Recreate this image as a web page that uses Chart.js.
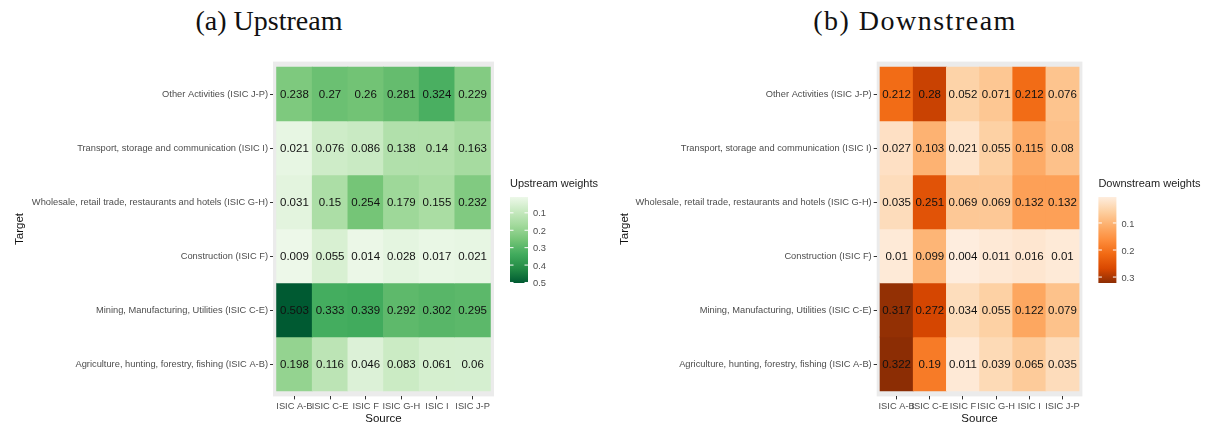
<!DOCTYPE html>
<html>
<head>
<meta charset="utf-8">
<script src="https://cdn.jsdelivr.net/npm/chart.js@4.4.1/dist/chart.umd.min.js"></script>
<style>
  body { margin: 0; background: #fff; width: 1211px; height: 430px; position: relative; overflow: hidden; }
  canvas { position: absolute; top: 0; }
  .title { position: absolute; top: 5px; font-family: "Liberation Serif", serif; font-size: 28px; color: #111; transform: translateX(-50%); white-space: nowrap; }
</style>
</head>
<body>
<div class="title" style="left:269px">(a) Upstream</div>
<div class="title" style="left:915px; letter-spacing:1.5px">(b) Downstream</div>
<canvas id="up" width="600" height="430" style="left:0"></canvas>
<canvas id="down" width="611" height="430" style="left:600px"></canvas>
<script>
// Source sectors (x axis) and target sectors (y axis, top to bottom)
const sources = ["ISIC A-B", "ISIC C-E", "ISIC F", "ISIC G-H", "ISIC I", "ISIC J-P"];
const targets = [
  "Other Activities (ISIC J-P)",
  "Transport, storage and communication (ISIC I)",
  "Wholesale, retail trade, restaurants and hotels (ISIC G-H)",
  "Construction (ISIC F)",
  "Mining, Manufacturing, Utilities (ISIC C-E)",
  "Agriculture, hunting, forestry, fishing (ISIC A-B)"
];

// one row per target, one column per source
const upstreamWeights = [
  [0.238, 0.27, 0.26, 0.281, 0.324, 0.229],
  [0.021, 0.076, 0.086, 0.138, 0.14, 0.163],
  [0.031, 0.15, 0.254, 0.179, 0.155, 0.232],
  [0.009, 0.055, 0.014, 0.028, 0.017, 0.021],
  [0.503, 0.333, 0.339, 0.292, 0.302, 0.295],
  [0.198, 0.116, 0.046, 0.083, 0.061, 0.06]
];
const downstreamWeights = [
  [0.212, 0.28, 0.052, 0.071, 0.212, 0.076],
  [0.027, 0.103, 0.021, 0.055, 0.115, 0.08],
  [0.035, 0.251, 0.069, 0.069, 0.132, 0.132],
  [0.01, 0.099, 0.004, 0.011, 0.016, 0.01],
  [0.317, 0.272, 0.034, 0.055, 0.122, 0.079],
  [0.322, 0.19, 0.011, 0.039, 0.065, 0.035]
];

const upTicks = [0.1, 0.2, 0.3, 0.4, 0.5];
const downTicks = [0.1, 0.2, 0.3];

// brewer palettes (light -> dark)
const greens = ["#edf8e9", "#c7e9c0", "#a1d99b", "#74c476", "#41ab5d", "#238b45", "#005a32"];
const oranges = ["#feedde", "#fdd0a2", "#fdae6b", "#fd8d3c", "#f16913", "#d94801", "#8c2d04"];

const SANS = "'Liberation Sans', Arial, sans-serif";

function hexToRgb(h) {
  return [parseInt(h.slice(1, 3), 16), parseInt(h.slice(3, 5), 16), parseInt(h.slice(5, 7), 16)];
}

// map a value onto the palette between min and max
function makeColour(palette, min, max) {
  const rgb = palette.map(hexToRgb);
  return v => {
    let t = (v - min) / (max - min);
    t = Math.max(0, Math.min(1, t)) * (rgb.length - 1);
    const i = Math.min(Math.floor(t), rgb.length - 2);
    const f = t - i;
    const c = rgb[i].map((a, k) => Math.round(a + (rgb[i + 1][k] - a) * f));
    return `rgb(${c[0]},${c[1]},${c[2]})`;
  };
}

// grey panel behind the tiles
const panelBg = {
  id: "panelBg",
  beforeDraw(chart) {
    const { ctx, chartArea: a } = chart;
    ctx.save();
    ctx.fillStyle = "#ebebeb";
    ctx.fillRect(a.left, a.top, a.right - a.left, a.bottom - a.top);
    ctx.restore();
  }
};

// value in every tile
const tileText = {
  id: "tileText",
  afterDatasetsDraw(chart) {
    const ctx = chart.ctx;
    ctx.save();
    ctx.font = "11.5px " + SANS;
    ctx.fillStyle = "#111";
    ctx.textAlign = "center";
    ctx.textBaseline = "middle";
    chart.data.datasets.forEach((ds, di) => {
      chart.getDatasetMeta(di).data.forEach((el, i) => {
        const p = el.getCenterPoint();
        ctx.fillText(String(ds.data[i].v), p.x, p.y + 1);
      });
    });
    ctx.restore();
  }
};

// colourbar legend on the right of the panel
const colourBar = {
  id: "colourBar",
  afterDraw(chart, args, opts) {
    const { ctx, chartArea: a } = chart;
    const x = a.right + 16, top = 197, h = 86, w = 18;
    ctx.save();
    ctx.font = "11px " + SANS;
    ctx.fillStyle = "#222";
    ctx.textBaseline = "middle";
    ctx.fillText(opts.title, x, 184);
    const g = ctx.createLinearGradient(0, top, 0, top + h);
    opts.palette.forEach((c, i) => g.addColorStop(i / (opts.palette.length - 1), c));
    ctx.fillStyle = g;
    ctx.fillRect(x, top, w, h);
    ctx.font = "9.3px " + SANS;
    ctx.fillStyle = "#4d4d4d";
    ctx.strokeStyle = "#fff";
    ctx.lineWidth = 1;
    opts.ticks.forEach(t => {
      const y = top + (t - opts.min) / (opts.max - opts.min) * h;
      ctx.beginPath();
      ctx.moveTo(x, y); ctx.lineTo(x + 3.5, y);
      ctx.moveTo(x + w - 3.5, y); ctx.lineTo(x + w, y);
      ctx.stroke();
      ctx.fillText(String(t), x + w + 5, y + 1);
    });
    ctx.restore();
  }
};

function buildChart(id, weights, palette, legendTitle, ticks, yWidth, titlePad, padRight) {
  const flat = weights.flat();
  const min = Math.min(...flat), max = Math.max(...flat);
  const colour = makeColour(palette, min, max);

  const datasets = weights.map((row, r) => ({
    label: targets[r],
    data: row.map((v, c) => ({ x: c, y: [r - 0.5, r + 0.5], v: v })),
    backgroundColor: ctx => colour(ctx.raw.v),
    borderWidth: 0,
    grouped: false,
    barPercentage: 1,
    categoryPercentage: 1
  }));

  const keepTicks = s => { s.ticks = s.ticks.filter(t => Number.isInteger(t.value) && t.value >= 0 && t.value <= 5); };

  return new Chart(document.getElementById(id), {
    type: "bar",
    data: { datasets },
    options: {
      responsive: false,
      animation: false,
      devicePixelRatio: 1,
      layout: { padding: { top: 61.6, right: padRight, bottom: 0, left: 0 } },
      plugins: {
        legend: { display: false },
        tooltip: { enabled: false },
        colourBar: { title: legendTitle, palette, ticks, min, max }
      },
      scales: {
        x: {
          type: "linear",
          offset: false,
          min: -0.6, max: 5.6,
          afterBuildTicks: keepTicks,
          afterFit: s => { s.height = 33.6; },
          grid: { offset: false, drawOnChartArea: false, tickLength: 3, color: "#333" },
          border: { display: false },
          ticks: {
            stepSize: 1, includeBounds: false, autoSkip: false, maxRotation: 0, padding: 1,
            color: "#4d4d4d", font: { family: SANS, size: 9.3 },
            callback: v => sources[v]
          },
          title: { display: true, text: "Source", color: "#111", font: { family: SANS, size: 11.5 }, padding: { top: 0, bottom: 4 } }
        },
        y: {
          type: "linear",
          reverse: true,
          min: -0.6, max: 5.6,
          afterBuildTicks: keepTicks,
          afterFit: s => { s.width = yWidth; },
          grid: { drawOnChartArea: false, tickLength: 3, color: "#333" },
          border: { display: false },
          ticks: {
            stepSize: 1, includeBounds: false, autoSkip: false, padding: 2,
            color: "#4d4d4d", font: { family: SANS, size: 9.3 },
            callback: v => targets[v]
          },
          title: { display: true, text: "Target", color: "#111", font: { family: SANS, size: 11.5 }, padding: { top: titlePad, bottom: 0 } }
        }
      }
    },
    plugins: [panelBg, tileText, colourBar]
  });
}

buildChart("up", upstreamWeights, greens, "Upstream weights", upTicks, 273, 13, 106);
buildChart("down", downstreamWeights, oranges, "Downstream weights", downTicks, 276.7, 18, 128.6);
</script>
</body>
</html>
